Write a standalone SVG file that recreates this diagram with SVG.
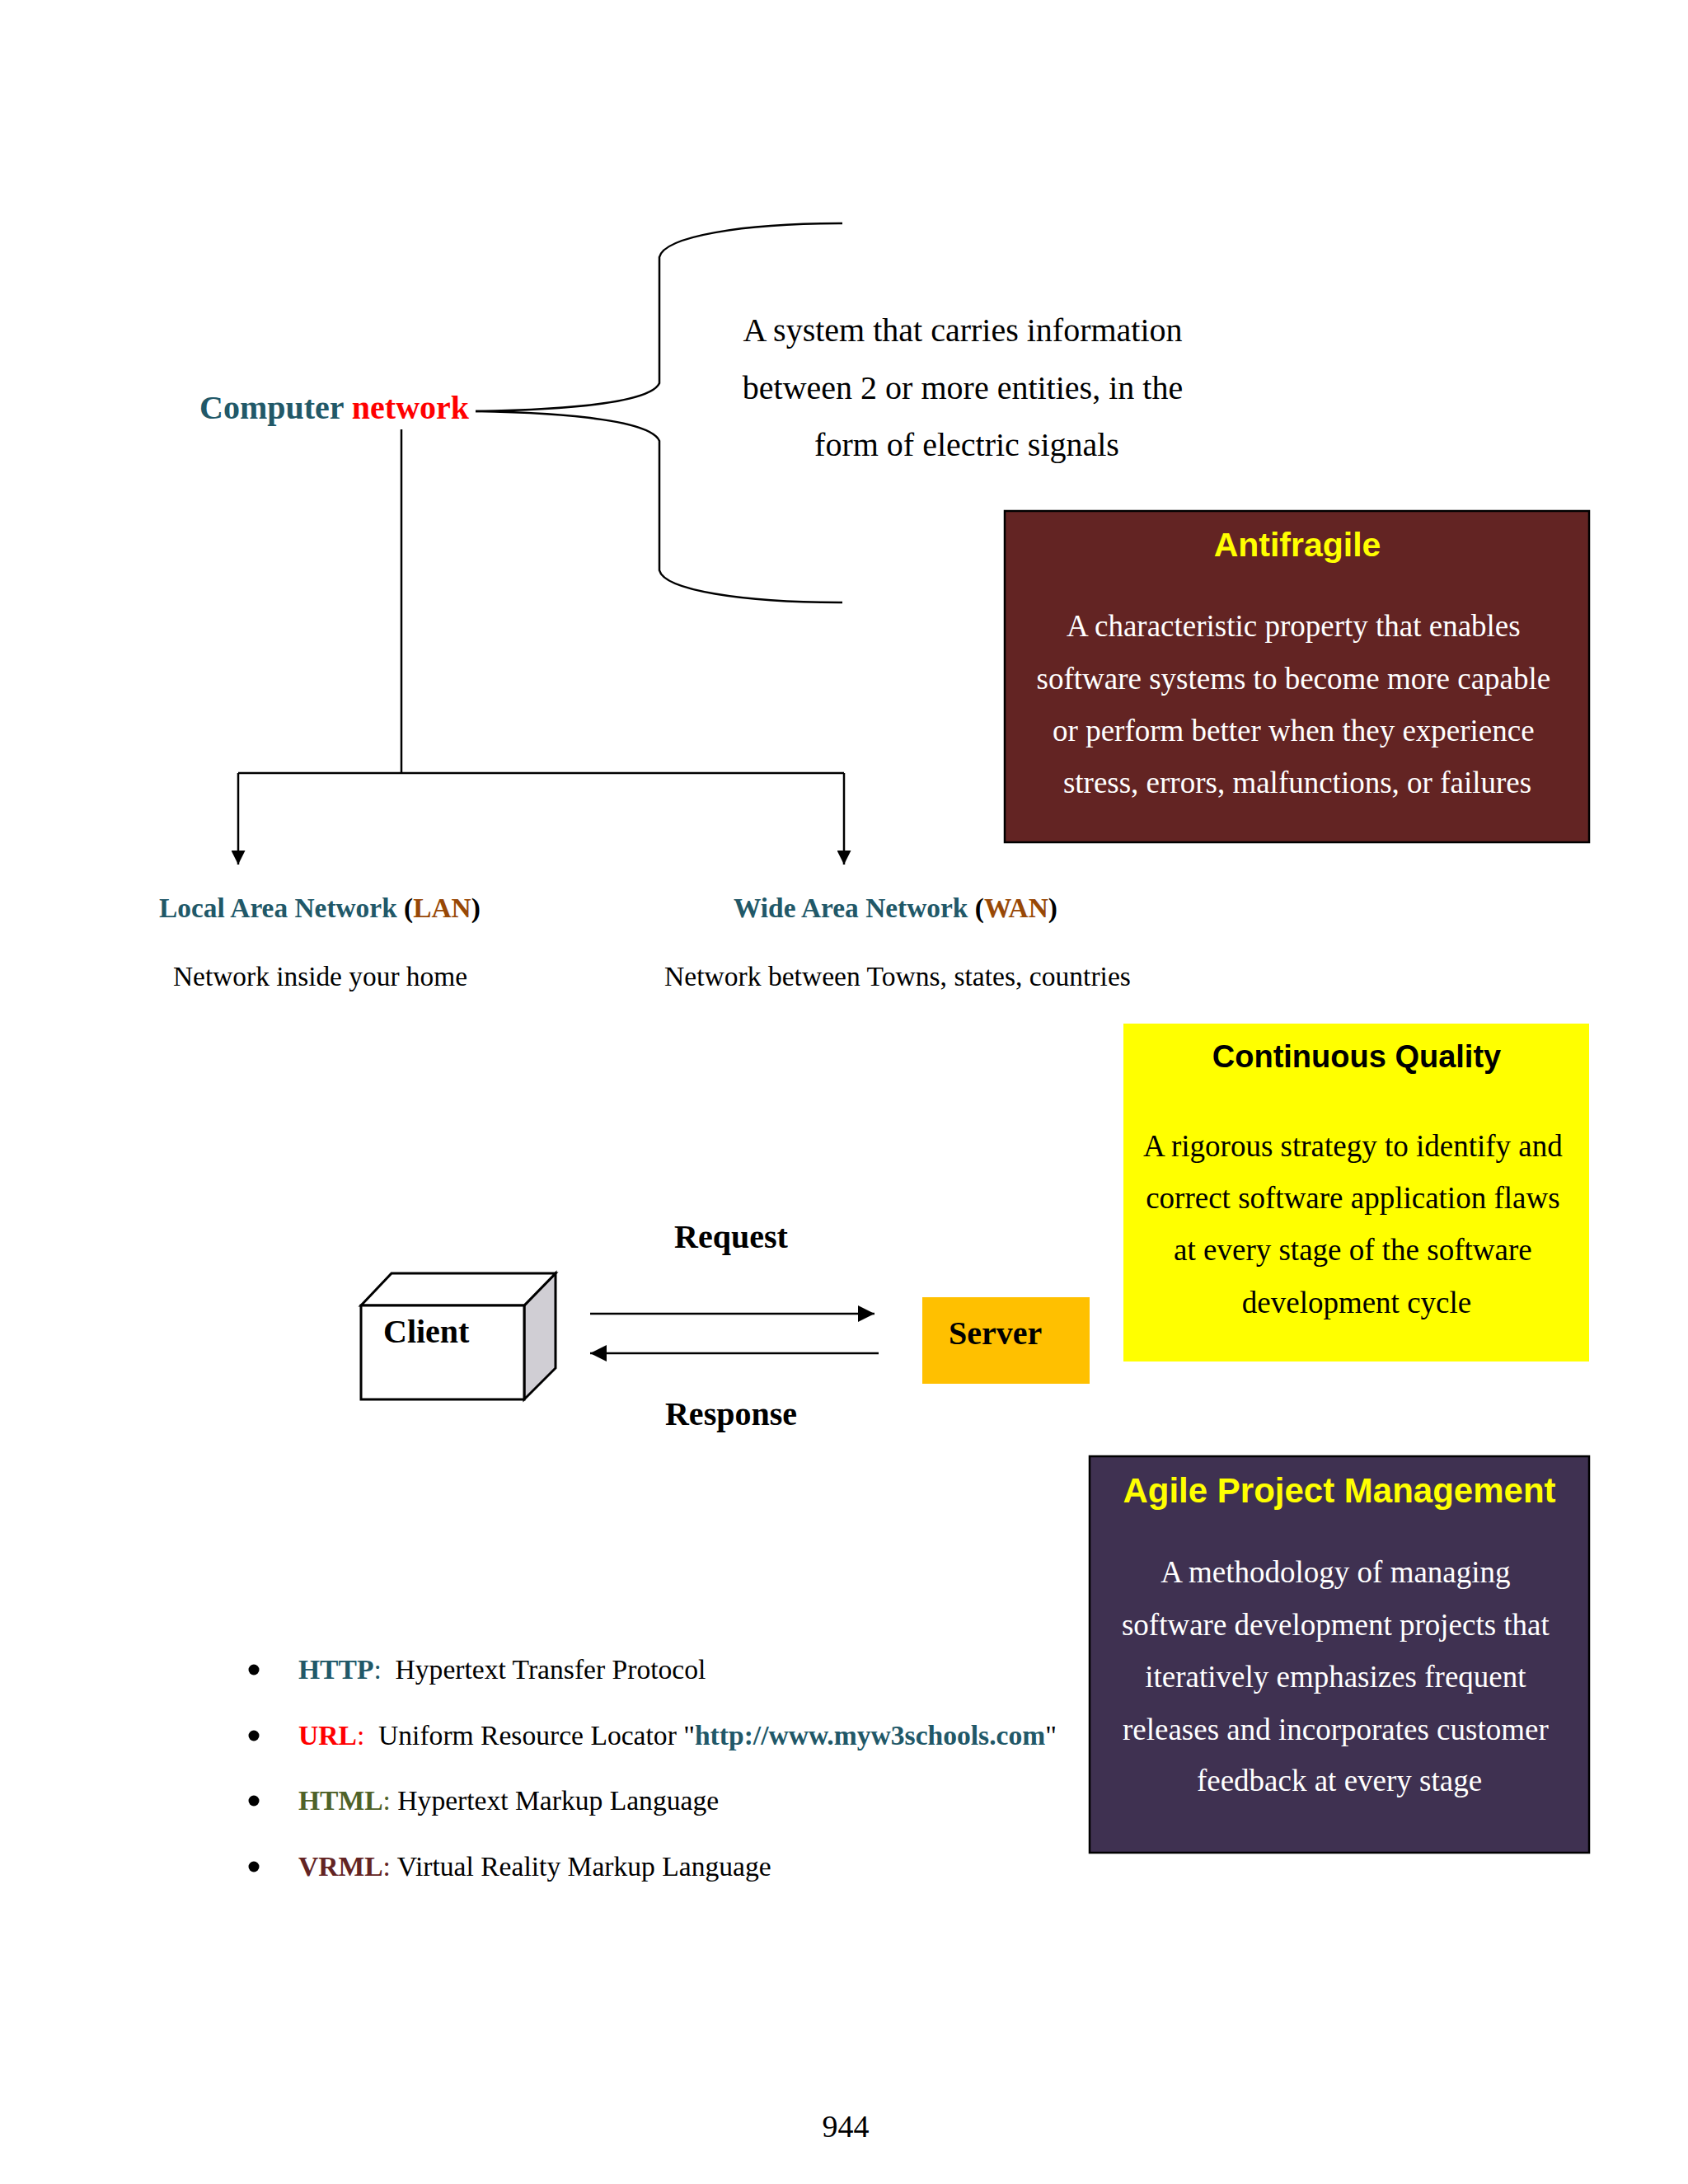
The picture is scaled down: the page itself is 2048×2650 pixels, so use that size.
<svg xmlns="http://www.w3.org/2000/svg" width="2048" height="2650" viewBox="0 0 2048 2650">
<defs>
<style>
.serif{font-family:"Liberation Serif","Times New Roman",serif}
.sans{font-family:"Liberation Sans",Arial,sans-serif;font-weight:bold}
.b{font-weight:bold}
.body{font-size:37px;text-anchor:middle}
.teal{fill:#215868}
.brown{fill:#984806}
.red{fill:#FF0000}
.olive{fill:#4F6228}
.wine{fill:#632423}
.ln{fill:none;stroke:#000;stroke-width:2.5}
.pre{white-space:pre}
</style>
<marker id="ah" viewBox="0 0 10 10" refX="10" refY="5" markerWidth="20" markerHeight="17" markerUnits="userSpaceOnUse" orient="auto">
<path d="M0,0 L10,5 L0,10 z" fill="#000"/>
</marker>
<marker id="ah2" viewBox="0 0 10 10" refX="10" refY="5" markerWidth="22" markerHeight="20" markerUnits="userSpaceOnUse" orient="auto">
<path d="M0,0 L10,5 L0,10 z" fill="#000"/>
</marker>
</defs>
<rect width="2048" height="2650" fill="#FFFFFF"/>

<g id="connectors">
<path class="ln" d="M577 499 C700 497 790 487 800 465 L800 312 C806 287 900 271 1022 271"/>
<path class="ln" d="M577 499 C700 501 790 512 800 535 L800 692 C806 716 900 731 1022 731"/>
<path class="ln" stroke-width="2" d="M487 521 L487 938"/>
<path class="ln" d="M289 938 L1024 938"/>
<path class="ln" d="M289 938 L289 1049" marker-end="url(#ah)"/>
<path class="ln" d="M1024 938 L1024 1049" marker-end="url(#ah)"/>
<path class="ln" stroke-width="3.5" d="M716 1594 L1061 1594" marker-end="url(#ah2)"/>
<path class="ln" stroke-width="3.5" d="M1066 1642 L716 1642" marker-end="url(#ah2)"/>
</g>

<g id="computer-network">
<text class="serif b" x="242" y="508" font-size="40"><tspan class="teal">Computer </tspan><tspan class="red">network</tspan></text>
</g>

<g id="definition">
<text class="serif" font-size="40" text-anchor="middle">
<tspan x="1173" y="414">A system that carries information</tspan>
<tspan x="1173" y="484">between 2 or more entities, in the</tspan>
<tspan x="1173" y="553">form of electric signals</tspan>
</text>
</g>

<g id="antifragile">
<rect x="1219" y="620" width="709" height="402" fill="#632423" stroke="#000" stroke-width="2.5"/>
<text class="sans" x="1574" y="675" font-size="41" text-anchor="middle" fill="#FFFF00">Antifragile</text>
<text class="serif body" fill="#FFFFFF">
<tspan x="1574" y="772">A characteristic property that enables</tspan>
<tspan x="1574" y="836">software systems to become more capable</tspan>
<tspan x="1574" y="899">or perform better when they experience</tspan>
<tspan x="1574" y="962">stress, errors, malfunctions, or failures</tspan>
</text>
</g>

<g id="lan">
<text class="serif b" x="193" y="1113" font-size="33.4"><tspan class="teal">Local Area Network </tspan><tspan>(</tspan><tspan class="brown">LAN</tspan><tspan>)</tspan></text>
<text class="serif" x="210" y="1196" font-size="33.4">Network inside your home</text>
</g>

<g id="wan">
<text class="serif b" x="890" y="1113" font-size="33.4"><tspan class="teal">Wide Area Network </tspan><tspan>(</tspan><tspan class="brown">WAN</tspan><tspan>)</tspan></text>
<text class="serif" x="806" y="1196" font-size="33.6">Network between Towns, states, countries</text>
</g>

<g id="continuous-quality">
<rect x="1363" y="1242" width="565" height="410" fill="#FFFF00"/>
<text class="sans" x="1646" y="1295" font-size="38" text-anchor="middle" fill="#000">Continuous Quality</text>
<text class="serif body" fill="#000">
<tspan x="1646" y="1403">A rigorous strategy to identify and</tspan>
<tspan x="1646" y="1466">correct software application flaws</tspan>
<tspan x="1646" y="1529">at every stage of the software</tspan>
<tspan x="1646" y="1593">development cycle</tspan>
</text>
</g>

<g id="client">
<path d="M636 1584 L674 1545 L674 1660 L636 1698 Z" fill="#D0CED4" stroke="#000" stroke-width="3"/>
<path d="M438 1584 L475 1545 L674 1545 L636 1584 Z" fill="#FFFFFF" stroke="#000" stroke-width="3"/>
<rect x="438" y="1584" width="198" height="114" fill="#FFFFFF" stroke="#000" stroke-width="3"/>
<text class="serif b" x="465" y="1629" font-size="40">Client</text>
</g>

<g id="request-label">
<text class="serif b" x="887" y="1514" font-size="40" text-anchor="middle">Request</text>
</g>
<g id="response-label">
<text class="serif b" x="887" y="1729" font-size="40" text-anchor="middle">Response</text>
</g>

<g id="server">
<rect x="1119" y="1574" width="203" height="105" fill="#FFC000"/>
<text class="serif b" x="1151" y="1631" font-size="40">Server</text>
</g>

<g id="agile">
<rect x="1322" y="1767" width="606" height="481" fill="#3F3151" stroke="#000" stroke-width="2.5"/>
<text class="sans" x="1625" y="1823" font-size="42" text-anchor="middle" fill="#FFFF00">Agile Project Management</text>
<text class="serif body" fill="#FFFFFF">
<tspan x="1625" y="1920">A methodology of managing</tspan>
<tspan x="1625" y="1984">software development projects that</tspan>
<tspan x="1625" y="2047">iteratively emphasizes frequent</tspan>
<tspan x="1625" y="2111">releases and incorporates customer</tspan>
<tspan x="1625" y="2173">feedback at every stage</tspan>
</text>
</g>

<g id="glossary">
<circle cx="308" cy="2026" r="6.5" fill="#000"/>
<circle cx="308" cy="2106" r="6.5" fill="#000"/>
<circle cx="308" cy="2185" r="6.5" fill="#000"/>
<circle cx="308" cy="2265" r="6.5" fill="#000"/>
<text class="serif pre" x="362" y="2037" font-size="33.6"><tspan class="teal b">HTTP</tspan><tspan class="teal">:</tspan>  Hypertext Transfer Protocol</text>
<text class="serif pre" x="362" y="2117" font-size="33.6"><tspan class="red b">URL</tspan><tspan class="red">:</tspan>  Uniform Resource Locator "<tspan class="teal b">http://www.myw3schools.com</tspan>"</text>
<text class="serif pre" x="362" y="2196" font-size="33.6"><tspan class="olive b">HTML</tspan><tspan class="olive">:</tspan> Hypertext Markup Language</text>
<text class="serif pre" x="362" y="2276" font-size="33.6"><tspan class="wine b">VRML</tspan><tspan class="wine">:</tspan> Virtual Reality Markup Language</text>
</g>

<g id="page-number">
<text class="serif" x="1026" y="2593" font-size="38" text-anchor="middle">944</text>
</g>
</svg>
